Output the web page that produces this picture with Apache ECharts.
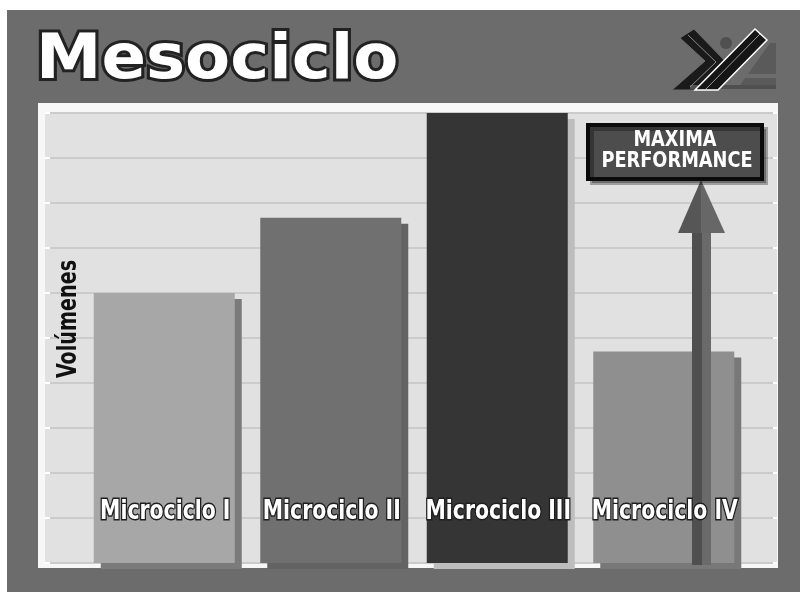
<!DOCTYPE html>
<html><head><meta charset="utf-8">
<script src="https://cdn.jsdelivr.net/npm/echarts@6/dist/echarts.min.js"></script>
<style>html,body{margin:0;padding:0;background:#fff}#c{width:800px;height:592px}</style>
</head><body><div id="c"></div>
<script>
// ---- data ----
const categories = ['Microciclo I', 'Microciclo II', 'Microciclo III', 'Microciclo IV'];
const volumes = [6.0, 7.67, 10, 4.7];
const barColors = ['#a7a7a7', '#707070', '#353535', '#8f8f8f'];
const shadowColors = ['#7b7b7b', '#636363', '#bdbdbd', '#787878'];
const yMin = 0, yMax = 10, yStep = 1;
const titleText = 'Mesociclo';
const axisName = 'Volúmenes';
const calloutLines = ['MAXIMA', 'PERFORMANCE'];

const NARROW = "'DejaVu Sans Condensed','DejaVu Sans',sans-serif";
const chart = echarts.init(document.getElementById('c'));

const option = {
  backgroundColor: '#ffffff',
  animation: false,
  grid: [
    { left: 45, right: 23, top: 113, bottom: 29, show: true, backgroundColor: '#e1e1e1', borderWidth: 0 },
    { left: 81, right: 53, top: 113, bottom: 29 }
  ],
  xAxis: [
    { type: 'category', gridIndex: 0, data: categories, show: false },
    { type: 'category', gridIndex: 1, data: categories, show: false }
  ],
  yAxis: [
    { type: 'value', gridIndex: 0, min: yMin, max: yMax, interval: yStep, position: 'left',
      axisLine: { show: false }, axisLabel: { show: false },
      axisTick: { show: true, inside: true, length: 5, lineStyle: { color: '#ffffff', width: 2 } },
      splitLine: { show: true, lineStyle: { color: '#cbcbcb', width: 2 } } },
    { type: 'value', gridIndex: 0, min: yMin, max: yMax, interval: yStep, position: 'right',
      axisLine: { show: false }, axisLabel: { show: false },
      axisTick: { show: true, inside: true, length: 4, lineStyle: { color: '#ffffff', width: 2 } },
      splitLine: { show: false } },
    { type: 'value', gridIndex: 1, min: yMin, max: yMax, interval: yStep, show: false, splitLine: { show: false } }
  ],
  series: [
    {
      type: 'bar', xAxisIndex: 1, yAxisIndex: 2, barWidth: 141, z: 1,
      data: volumes.map((v, i) => ({
        value: v,
        itemStyle: { color: barColors[i], shadowColor: shadowColors[i], shadowOffsetX: 7, shadowOffsetY: 6, shadowBlur: 0 }
      }))
    },
    {
      type: 'custom', xAxisIndex: 1, yAxisIndex: 2, z: 5,
      data: categories.map((c, i) => [i, volumes[i]]),
      renderItem: function (params, api) {
        const p = api.coord([api.value(0), 0]);
        return {
          type: 'text', x: p[0] + 1, y: p[1] - 51, scaleX: 0.84,
          style: {
            text: categories[params.dataIndex], fill: '#ffffff', stroke: '#1e1e1e', lineWidth: 3, strokeFirst: true,
            fontFamily: NARROW, fontWeight: 'bold', fontSize: 27, align: 'center', verticalAlign: 'middle'
          }
        };
      }
    }
  ],
  graphic: [
    // backdrop
    { type: 'rect', z: -20, shape: { x: 0, y: 0, width: 800, height: 592 }, style: { fill: '#ffffff' } },
    { type: 'rect', z: -19, shape: { x: 7, y: 10, width: 793, height: 582 }, style: { fill: '#6c6c6c' } },
    { type: 'rect', z: -18, shape: { x: 38, y: 103, width: 740, height: 465 }, style: { fill: '#f7f7f7' } },
    // title
    { type: 'text', z: 10, x: 36, y: 62, scaleX: 1.06,
      style: { text: titleText, fill: '#ffffff', stroke: '#222222', lineWidth: 6, strokeFirst: true,
        fontFamily: "'DejaVu Sans',sans-serif", fontWeight: 'bold', fontSize: 62,
        align: 'left', verticalAlign: 'middle' } },
    // logo
    { type: 'polygon', z: 10, shape: { points: [[680, 38], [694, 29], [726, 62], [701, 90], [672, 90], [705, 61]] },
      style: { fill: '#1a1a1a', stroke: '#6c6c6c', lineWidth: 1 } },
    { type: 'polyline', z: 11, shape: { points: [[688, 35], [716, 62], [690, 87]] },
      style: { stroke: '#8a8a8a', lineWidth: 1, fill: null } },
    { type: 'circle', z: 10, shape: { cx: 726, cy: 43, r: 6 }, style: { fill: '#505050' } },
    { type: 'polygon', z: 10, shape: { points: [[738, 88], [770, 43], [776, 43], [776, 88]] },
      style: { fill: '#5a5a5a' } },
    { type: 'rect', z: 11, shape: { x: 735, y: 74, width: 41, height: 4 }, style: { fill: '#6c6c6c' } },
    { type: 'rect', z: 10, shape: { x: 690, y: 85, width: 86, height: 4 }, style: { fill: '#505050' } },
    { type: 'polygon', z: 12, shape: { points: [[695, 90], [755, 29], [767, 40], [718, 90]] },
      style: { fill: '#151515', stroke: '#ffffff', lineWidth: 1.5 } },
    { type: 'line', z: 13, shape: { x1: 706, y1: 89, x2: 760, y2: 34 }, style: { stroke: '#9a9a9a', lineWidth: 1 } },
    // arrow
    { type: 'rect', z: 3, shape: { x: 692, y: 228, width: 10, height: 337 }, style: { fill: '#4f4f4f' } },
    { type: 'rect', z: 3, shape: { x: 702, y: 228, width: 9, height: 337 }, style: { fill: '#6a6a6a' } },
    { type: 'polygon', z: 3, shape: { points: [[701, 180], [678, 233], [701, 233]] }, style: { fill: '#565656' } },
    { type: 'polygon', z: 3, shape: { points: [[701, 180], [701, 233], [725, 233]] }, style: { fill: '#676767' } },
    // callout
    { type: 'rect', z: 6, shape: { x: 588, y: 125, width: 174, height: 54 },
      style: { fill: '#4d4d4d', stroke: '#0a0a0a', lineWidth: 4, shadowColor: 'rgba(0,0,0,0.3)', shadowOffsetX: 4, shadowOffsetY: 4, shadowBlur: 0 } },
    { type: 'text', z: 7, x: 675, y: 141, scaleX: 0.94,
      style: { text: calloutLines[0], fill: '#ffffff', fontFamily: NARROW, fontWeight: 'bold', fontSize: 21,
        align: 'center', verticalAlign: 'middle' } },
    { type: 'text', z: 7, x: 677, y: 162, scaleX: 0.94,
      style: { text: calloutLines[1], fill: '#ffffff', fontFamily: NARROW, fontWeight: 'bold', fontSize: 21,
        align: 'center', verticalAlign: 'middle' } },
    // axis name
    { type: 'text', z: 7, x: 69, y: 319, rotation: Math.PI / 2, scaleX: 0.79,
      style: { text: axisName, fill: '#111111', fontFamily: NARROW, fontWeight: 'bold', fontSize: 27,
        align: 'center', verticalAlign: 'middle' } }
  ]
};
chart.setOption(option);
</script>
</body></html>
